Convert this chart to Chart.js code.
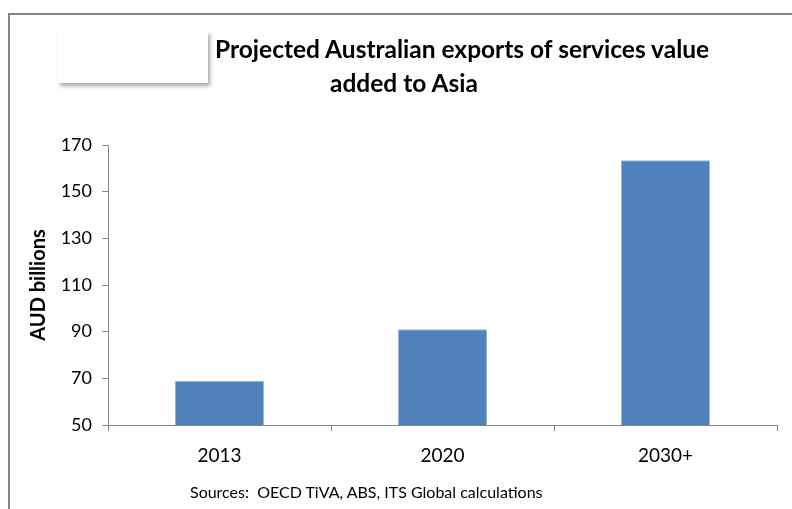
<!DOCTYPE html>
<html>
<head>
<meta charset="utf-8">
<script src="https://cdn.jsdelivr.net/npm/chart.js@4/dist/chart.umd.min.js"></script>
<style>
  body { margin: 0; background: #fff; font-family: Lato, sans-serif; }
  #wrap { position: relative; width: 792px; height: 509px; overflow: hidden; }
  #frame { position: absolute; left: 8px; top: 13px; width: 900px; height: 600px;
           border-top: 2px solid #868686; border-left: 2px solid #868686; }
  #blank { position: absolute; left: 58px; top: 31px; width: 150px; height: 52px; background: #fff;
           box-shadow: 2px 3px 4px rgba(0,0,0,0.35); }
  .title { position: absolute; font-weight: bold; font-size: 24.5px; color: #000; white-space: nowrap; }
  #source { position: absolute; left: 190px; top: 482px; font-size: 16px; color: #000; white-space: nowrap; }
  canvas { position: absolute; left: 0; top: 0; }
</style>
</head>
<body>
<div id="wrap">
  <div id="frame"></div>
  <div id="blank"></div>
  <canvas id="chart" width="792" height="509"></canvas>
  <div class="title" style="left:215px; top:34px;">Projected Australian exports of services value</div>
  <div class="title" style="left:330px; top:68px;">added to Asia</div>
  <div id="source">Sources:&nbsp; OECD TiVA, ABS, ITS Global calculations</div>
</div>
<script>
// Datos del grafico
const categorias = ['2013', '2020', '2030+'];
const valores = [69, 91, 163.5];
const ejeMin = 50;
const ejeMax = 170;
const ejePaso = 20;

document.addEventListener('DOMContentLoaded', function() {
    const ctx = document.getElementById('chart').getContext('2d');
    new Chart(ctx, {
        type: 'bar',
        data: {
            labels: categorias,
            datasets: [{
                label: 'AUD billions',
                data: valores,
                backgroundColor: '#4F81BD',
                borderColor: '#9AB4DA',
                borderWidth: 1,
                barPercentage: 0.4,
                categoryPercentage: 1
            }]
        },
        options: {
            responsive: false,
            animation: false,
            layout: { padding: { top: 145, right: 15, left: 0, bottom: 0 } },
            plugins: {
                legend: { display: false },
                tooltip: { enabled: false }
            },
            scales: {
                x: {
                    grid: { offset: true, drawOnChartArea: false, tickLength: 6, color: '#868686' },
                    border: { color: '#868686' },
                    ticks: { color: '#000', font: { family: 'Lato', size: 19 }, padding: 13 },
                    afterFit: function(scale) { scale.height = 84; }
                },
                y: {
                    min: ejeMin,
                    max: ejeMax,
                    ticks: { stepSize: ejePaso, color: '#000', font: { family: 'Lato', size: 18 }, padding: 10 },
                    grid: { drawOnChartArea: false, tickLength: 6, color: '#868686' },
                    border: { color: '#868686' },
                    title: {
                        display: true,
                        text: 'AUD billions',
                        color: '#000',
                        font: { family: 'Lato', size: 20, weight: 'bold' },
                        padding: { top: 27, bottom: 0 }
                    },
                    afterFit: function(scale) { scale.width = 108; }
                }
            }
        }
    });
});
</script>
</body>
</html>
